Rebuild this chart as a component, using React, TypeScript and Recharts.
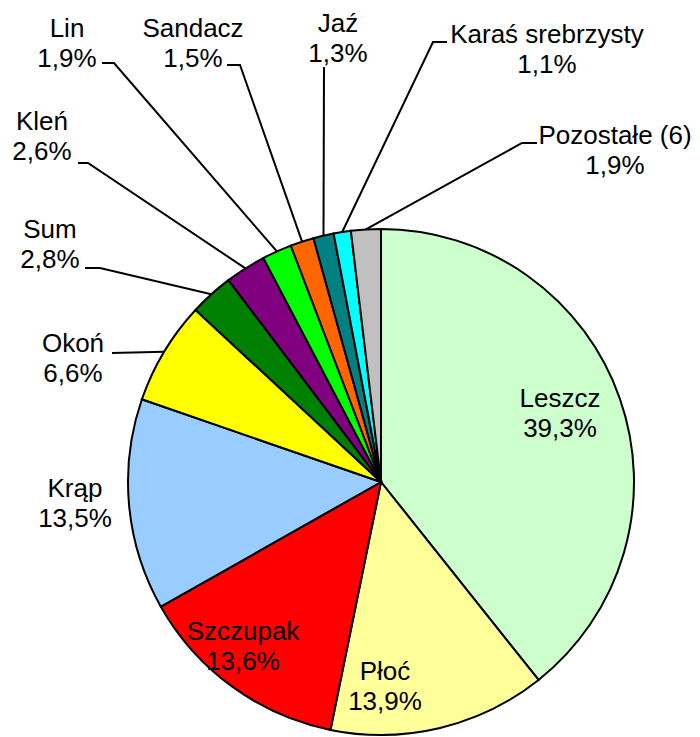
import React from "react";
import { PieChart, Pie, Cell } from "recharts";

const categories = [
  "Leszcz", "Płoć", "Szczupak", "Krąp", "Okoń", "Sum", "Kleń", "Lin",
  "Sandacz", "Jaź", "Karaś srebrzysty", "Pozostałe (6)",
];
const shares = [39.3, 13.9, 13.6, 13.5, 6.6, 2.8, 2.6, 1.9, 1.5, 1.3, 1.1, 1.9];
const percentLabels = [
  "39,3%", "13,9%", "13,6%", "13,5%", "6,6%", "2,8%", "2,6%", "1,9%",
  "1,5%", "1,3%", "1,1%", "1,9%",
];
const colors = [
  "#CCFFCC", "#FFFF99", "#FF0000", "#99CCFF", "#FFFF00", "#008000",
  "#800080", "#00FF00", "#FF6600", "#008080", "#00FFFF", "#C0C0C0",
];

// label layout: text centre x, first baseline y, optional leader elbow/end
type LabelPos = { x: number; y: number; leader?: [number, number, number, number] };
const labelLayout: LabelPos[] = [
  { x: 560, y: 407 },
  { x: 385, y: 680 },
  { x: 243, y: 640 },
  { x: 75, y: 497 },
  { x: 73, y: 352, leader: [112, 353, 112, 353] },
  { x: 50, y: 238, leader: [100, 268, 85, 268] },
  { x: 42, y: 130, leader: [88, 163, 78, 163] },
  { x: 67, y: 37, leader: [114, 63, 102, 63] },
  { x: 193, y: 37, leader: [240, 65, 227, 65] },
  { x: 338, y: 32, leader: [324, 67, 324, 67] },
  { x: 547, y: 43, leader: [433, 42, 447, 42] },
  { x: 615, y: 144, leader: [522, 143, 537, 143] },
];

const data = categories.map((name, i) => ({ name, value: shares[i] }));

const RADIAN = Math.PI / 180;
const FONT = "'Liberation Sans', Arial, sans-serif";

const renderLabel = (props: any) => {
  const { cx, cy, midAngle, outerRadius, index } = props;
  const pos = labelLayout[index];
  const els: React.ReactNode[] = [];
  if (pos.leader) {
    const sx = cx + outerRadius * Math.cos(-midAngle * RADIAN);
    const sy = cy + outerRadius * Math.sin(-midAngle * RADIAN);
    const [ex, ey, tx, ty] = pos.leader;
    els.push(
      <polyline
        key="l"
        points={`${sx},${sy} ${ex},${ey} ${tx},${ty}`}
        fill="none"
        stroke="#000"
        strokeWidth={2}
      />
    );
  }
  els.push(
    <text
      key="t"
      textAnchor="middle"
      fontFamily={FONT}
      fontSize={26}
      fill="#000"
    >
      <tspan x={pos.x} y={pos.y}>{categories[index]}</tspan>
      <tspan x={pos.x} y={pos.y + 30}>{percentLabels[index]}</tspan>
    </text>
  );
  return <g key={`lab-${index}`}>{els}</g>;
};

export default function App() {
  return (
    <div style={{ position: "absolute", left: 0, top: 0, background: "#fff" }}>
      <PieChart width={700} height={737} margin={{ top: 0, right: 0, bottom: 0, left: 0 }}>
        <Pie
          data={data}
          dataKey="value"
          nameKey="name"
          cx={381}
          cy={482}
          outerRadius={253}
          startAngle={90}
          endAngle={-270}
          stroke="#000"
          strokeWidth={2}
          label={renderLabel}
          labelLine={false}
          isAnimationActive={false}
        >
          {data.map((d, i) => (
            <Cell key={d.name} fill={colors[i]} />
          ))}
        </Pie>
      </PieChart>
    </div>
  );
}
